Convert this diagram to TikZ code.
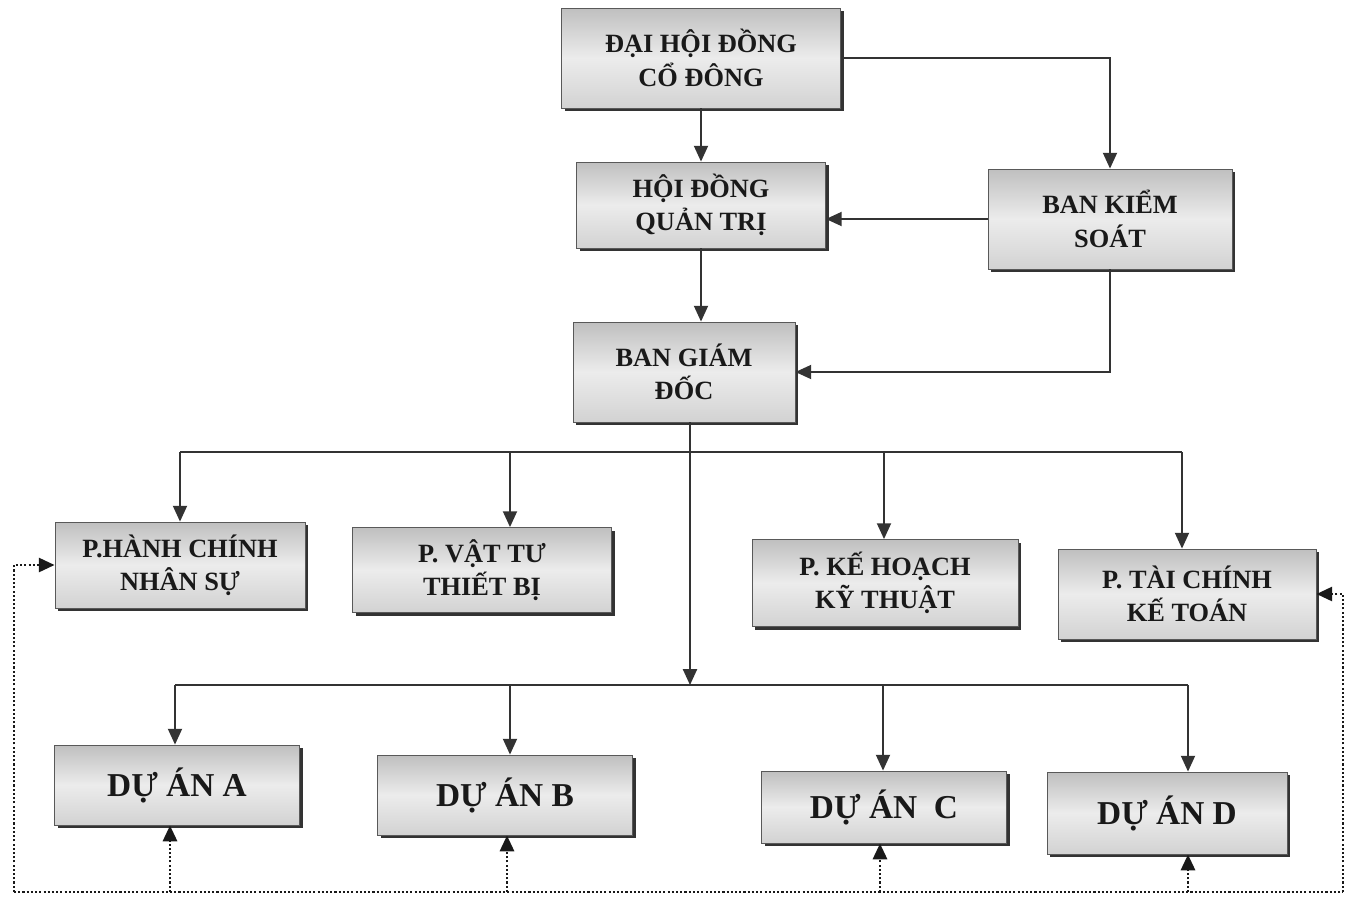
\documentclass[tikz,border=0pt]{standalone}
\usepackage{fontspec}
\setmainfont{Liberation Serif}
\usetikzlibrary{arrows.meta,shadows,calc}
\begin{document}
\begin{tikzpicture}[x=0.02cm,y=-0.02cm,
  box/.style={draw=black!65, line width=0.5pt, top color=gray!50, bottom color=gray!35, middle color=gray!15,
    drop shadow={shadow xshift=1.8pt, shadow yshift=-1.8pt, fill=black!80, opacity=1},
    align=center, inner sep=0pt, text=black!90, font=\bfseries\fontsize{15}{19}\selectfont},
  pbox/.style={box, font=\bfseries\fontsize{19}{22}\selectfont},
  conn/.style={draw=black!80, line width=1pt},
  arr/.style={conn, -{Triangle[width=8pt,length=9pt]}},
  dline/.style={draw=black!90, line width=1.5pt, dash pattern=on 1.2pt off 1.2pt},
  darr/.style={dline, -{Triangle[width=8pt,length=9pt]}}
]
\useasboundingbox (0,0) rectangle (1353,920);

% top level
\node[box, minimum width=5.58cm, minimum height=2.0cm] (dh) at (701,58) {ĐẠI HỘI ĐỒNG\\CỔ ĐÔNG};
\node[box, minimum width=4.98cm, minimum height=1.72cm] (hdqt) at (701,205) {HỘI ĐỒNG\\QUẢN TRỊ};
\node[box, minimum width=4.88cm, minimum height=2.0cm] (bks) at (1110,219) {BAN KIỂM\\SOÁT};
\node[box, minimum width=4.44cm, minimum height=2.0cm] (bgd) at (684,372) {BAN GIÁM\\ĐỐC};

% departments
\node[box, minimum width=5.0cm, minimum height=1.72cm] (hc) at (180,565) {P.HÀNH CHÍNH\\NHÂN SỰ};
\node[box, minimum width=5.18cm, minimum height=1.7cm] (vt) at (482,570) {P. VẬT TƯ\\THIẾT BỊ};
\node[box, minimum width=5.32cm, minimum height=1.74cm] (kh) at (885,583) {P. KẾ HOẠCH\\KỸ THUẬT};
\node[box, minimum width=5.16cm, minimum height=1.8cm] (tc) at (1187,594) {P. TÀI CHÍNH\\KẾ TOÁN};

% projects
\node[pbox, minimum width=4.9cm, minimum height=1.6cm] (da) at (177,785) {DỰ ÁN A};
\node[pbox, minimum width=5.1cm, minimum height=1.6cm] (db) at (505,795) {DỰ ÁN B};
\node[pbox, minimum width=4.9cm, minimum height=1.44cm] (dc) at (884,807) {DỰ ÁN\ \ C};
\node[pbox, minimum width=4.8cm, minimum height=1.64cm] (dd) at (1167,813) {DỰ ÁN D};

% bus coordinates
\coordinate (j1) at (690,452);
\coordinate (j2) at (690,685);
\coordinate (p1) at (180,452);
\coordinate (p2) at (510,452);
\coordinate (p3) at (884,452);
\coordinate (p4) at (1182,452);
\coordinate (q1) at (175,685);
\coordinate (q2) at (510,685);
\coordinate (q3) at (883,685);
\coordinate (q4) at (1188,685);
\coordinate (L) at (14,892);
\coordinate (R) at (1343,892);
\coordinate (r1) at (170,892);
\coordinate (r2) at (507,892);
\coordinate (r3) at (880,892);
\coordinate (r4) at (1188,892);

% upper connectors
\draw[arr] (dh.south) -- (hdqt.north);
\draw[arr] (dh.east) -| (bks.north);
\draw[arr] (bks.west) -- (bks.west -| hdqt.east);
\draw[arr] (hdqt.south) -- (hdqt.south |- bgd.north);
\draw[arr] (bks.south) |- (bgd.east);

% main trunk and buses
\draw[arr] (bgd.south -| j1) -- (j2);
\draw[conn] (p1) -- (p4);
\draw[arr] (p1) -- (p1 |- hc.north);
\draw[arr] (p2) -- (p2 |- vt.north);
\draw[arr] (p3) -- (p3 |- kh.north);
\draw[arr] (p4) -- (p4 |- tc.north);
\draw[conn] (q1) -- (q4);
\draw[arr] (q1) -- (q1 |- da.north);
\draw[arr] (q2) -- (q2 |- db.north);
\draw[arr] (q3) -- (q3 |- dc.north);
\draw[arr] (q4) -- (q4 |- dd.north);

% dotted feedback
\draw[dline] (L) -- (R);
\draw[darr] (L) |- (hc.west);
\draw[darr] (R) |- (tc.east);
\draw[darr] (r1) -- (r1 |- da.south);
\draw[darr] (r2) -- (r2 |- db.south);
\draw[darr] (r3) -- (r3 |- dc.south);
\draw[darr] (r4) -- (r4 |- dd.south);
\end{tikzpicture}
\end{document}
